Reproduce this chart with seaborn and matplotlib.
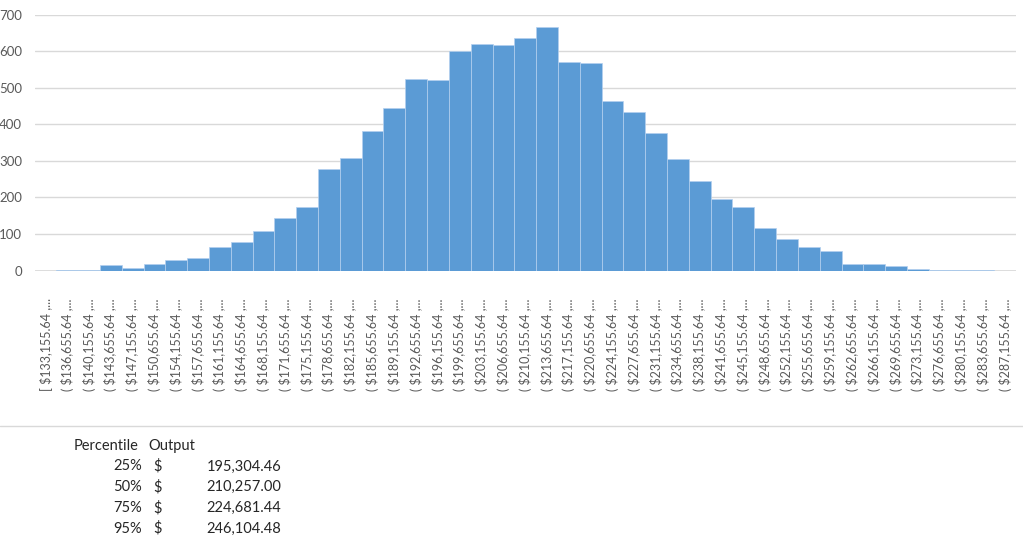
import matplotlib
matplotlib.use("Agg")
import matplotlib.pyplot as plt
import seaborn as sns
import pandas as pd

# lower bin edges of the simulated output
bin_starts = [133155.64, 136655.64, 140155.64, 143655.64, 147155.64, 150655.64,
              154155.64, 157655.64, 161155.64, 164655.64, 168155.64, 171655.64,
              175155.64, 178655.64, 182155.64, 185655.64, 189155.64, 192655.64,
              196155.64, 199655.64, 203155.64, 206655.64, 210155.64, 213655.64,
              217155.64, 220655.64, 224155.64, 227655.64, 231155.64, 234655.64,
              238155.64, 241655.64, 245155.64, 248655.64, 252155.64, 255655.64,
              259155.64, 262655.64, 266155.64, 269655.64, 273155.64, 276655.64,
              280155.64, 283655.64, 287155.64]
counts = [0, 2, 2, 14, 7, 18, 29, 35, 65, 79, 108, 145, 175, 277, 308, 382,
          445, 523, 520, 602, 621, 617, 635, 666, 571, 568, 465, 433, 375, 306,
          244, 196, 175, 115, 85, 65, 53, 17, 17, 11, 5, 2, 2, 1, 0]

percentiles = ["25%", "50%", "75%", "95%"]
outputs = ["195,304.46", "210,257.00", "224,681.44", "246,104.48"]

labels = [("[ " if i == 0 else "( ") + "${:,.2f} ,...".format(v)
          for i, v in enumerate(bin_starts)]
df = pd.DataFrame({"bin": labels, "count": counts})

sns.set_style("white")
plt.rcParams["font.family"] = ["Lato", "DejaVu Sans"]

fig = plt.figure(figsize=(10.23, 5.41), dpi=100)
ax = fig.add_axes([34.5 / 1023, 0.5, (1016 - 34.5) / 1023, (270.5 - 14.7) / 541])

sns.barplot(data=df, x="bin", y="count", color="#5B9BD5", width=1.0,
            edgecolor="#B4D0EF", linewidth=0.5, saturation=1, ax=ax)

ax.set_xlim(-0.5, len(labels) - 0.5)
ax.set_ylim(0, 700)
ax.set_yticks(range(0, 701, 100))
ax.yaxis.grid(True, color="#D9D9D9", linewidth=1)
ax.set_axisbelow(True)
for s in ax.spines.values():
    s.set_visible(False)
ax.axhline(0, color="#D9D9D9", linewidth=1.2, zorder=0)
ax.set_xlabel("")
ax.set_ylabel("")
ax.tick_params(axis="y", length=0, pad=9, labelsize=9.5, labelcolor="#595959")
ax.tick_params(axis="x", length=0, pad=20, labelsize=9, labelcolor="#595959")
ax.set_xticks(range(len(labels)))
ax.set_xticklabels(labels, rotation=90, va="top", ha="center")

# separator line below the chart
fig.add_artist(plt.Line2D([0, 1], [1 - 425.5 / 541] * 2, color="#D9D9D9",
                          linewidth=1, transform=fig.transFigure))

# percentile table
fs = 10.5
def fy(py):
    return 1 - py / 541

fig.text(74 / 1023, fy(446), "Percentile", fontsize=fs, va="center", ha="left")
fig.text(148 / 1023, fy(446), "Output", fontsize=fs, va="center", ha="left")
for i, (p, o) in enumerate(zip(percentiles, outputs)):
    y = fy(466.5 + i * 20.7)
    fig.text(142 / 1023, y, p, fontsize=fs, va="center", ha="right")
    fig.text(153 / 1023, y, "$", fontsize=fs, va="center", ha="left")
    fig.text(281 / 1023, y, o, fontsize=fs, va="center", ha="right")

fig.savefig("out.png", dpi=100)
